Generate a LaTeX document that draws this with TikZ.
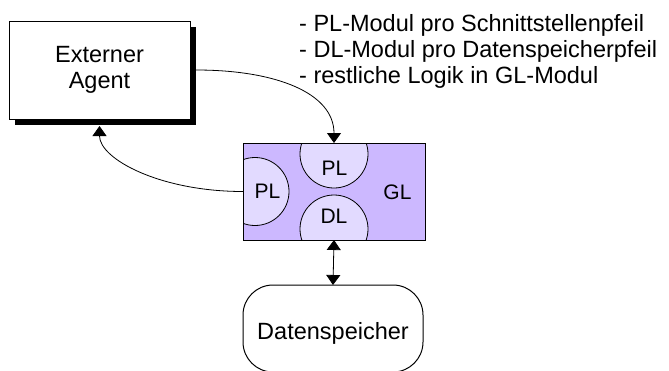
\documentclass[tikz,border=0pt]{standalone}
\usepackage{fontspec}
\setmainfont{Liberation Sans}
\usetikzlibrary{arrows.meta,shadows}
\definecolor{glfill}{RGB}{204,184,255}
\definecolor{modfill}{RGB}{226,218,255}
\begin{document}
\begin{tikzpicture}[x=1pt,y=-1pt,
  every node/.style={font=\fontsize{23.5}{25.5}\selectfont},
  tipend/.style={-{Triangle[width=14pt,length=10pt]}},
  tipboth/.style={{Triangle[width=14pt,length=10pt]}-{Triangle[width=14pt,length=10pt]}},
  conn/.style={line width=0.8pt},
  box/.style={draw=black, line width=1pt, inner sep=0pt, outer sep=0pt},
  modlabel/.style={font=\fontsize{21}{23}\selectfont, inner sep=0pt},
  notetext/.style={anchor=base west, inner sep=0pt}
]
\useasboundingbox (0,0) rectangle (669,370);

% external agent with a solid drop shadow
\node[box, fill=white, minimum width=181pt, minimum height=98pt, align=center,
      drop shadow={shadow xshift=6pt, shadow yshift=-6pt, fill=black, opacity=1}]
      (agent) at (99.5,70) {Externer\\Agent};

% GL module with the PL and DL sub-modules
\node[box, fill=glfill, minimum width=182pt, minimum height=97pt] (gl) at (334,191.5) {};
\begin{scope}
  \clip (gl.south west) rectangle (gl.north east);
  \draw[fill=modfill, line width=0.8pt] (334,154) circle[radius=34pt];
  \draw[fill=modfill, line width=0.8pt] (255,191.5) circle[radius=34pt];
  \draw[fill=modfill, line width=0.8pt] (334,229) circle[radius=34pt];
\end{scope}
\draw[line width=1pt] (gl.south west) rectangle (gl.north east);
\node[modlabel, anchor=base] (pltop) at (334.5,175) {PL};
\node[modlabel, anchor=base] (plleft) at (267.5,198.5) {PL};
\node[modlabel, anchor=base] (dl) at (334,223.3) {DL};
\node[modlabel, anchor=base] (gllabel) at (397.5,199.3) {GL};

% data store
\node[box, rounded corners=30pt, minimum width=180pt, minimum height=87pt] (store) at (333,328.5) {};
\node[anchor=base, inner sep=0pt] (storelabel) at (333,339) {Datenspeicher};

% notes
\node[notetext] (note1) at (299,31.7) {- PL-Modul pro Schnittstellenpfeil};
\node[notetext] (note2) at (299,57.5) {- DL-Modul pro Datenspeicherpfeil};
\node[notetext] (note3) at (299,83) {- restliche Logik in GL-Modul};

% connectors
\draw[conn, tipend] ([xshift=6pt]agent.east) .. controls +(80,0) and +(0,-50) .. (gl.north);
\draw[conn, tipend] (gl.west) .. controls +(-83,0) and +(0,33) .. ([yshift=-7pt]agent.south);
\draw[conn, tipboth] (gl.south) -- (store.north);
\end{tikzpicture}
\end{document}
